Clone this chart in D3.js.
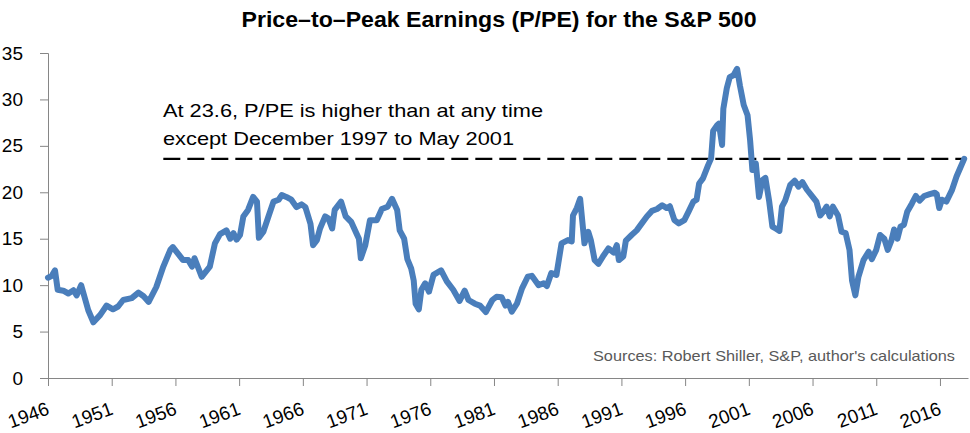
<!DOCTYPE html>
<html>
<head>
<meta charset="utf-8">
<script src="https://cdn.jsdelivr.net/npm/d3@7"></script>
<style>
  html, body { margin: 0; padding: 0; background: #ffffff; }
  svg { display: block; }
  text { font-family: "Liberation Sans", Arial, sans-serif; }
</style>
</head>
<body>
<svg id="chart" width="970" height="433"></svg>
<script>
// ---- data ----
const years = [
  1946.0, 1946.3, 1946.55, 1946.76, 1947.2, 1947.6, 1948.0, 1948.25, 1948.6, 1948.85,
  1949.16, 1949.56, 1950.1, 1950.6, 1951.1, 1951.5, 1951.9, 1952.57, 1953.1, 1953.5,
  1953.9, 1954.5, 1955.05, 1955.6, 1955.8, 1956.2, 1956.6, 1957.0, 1957.3, 1957.5,
  1958.06, 1958.7, 1959.1, 1959.5, 1960.0, 1960.3, 1960.55, 1960.8, 1961.07, 1961.33,
  1961.7, 1962.1, 1962.4, 1962.55, 1962.9, 1963.3, 1963.7, 1964.1, 1964.35, 1964.7,
  1965.1, 1965.5, 1965.9, 1966.2, 1966.6, 1966.8, 1967.1, 1967.35, 1967.75, 1968.0,
  1968.3, 1968.5, 1969.0, 1969.36, 1969.8, 1970.2, 1970.4, 1970.55, 1970.9, 1971.27,
  1971.8, 1972.2, 1972.66, 1973.0, 1973.4, 1973.6, 1973.95, 1974.2, 1974.5, 1974.7,
  1974.85, 1975.1, 1975.3, 1975.6, 1975.9, 1976.25, 1976.85, 1977.3, 1977.8, 1978.3,
  1978.7, 1979.0, 1979.5, 1979.9, 1980.36, 1980.87, 1981.2, 1981.6, 1981.9, 1982.1,
  1982.4, 1982.8, 1983.2, 1983.65, 1983.97, 1984.5, 1984.9, 1985.15, 1985.5, 1985.9,
  1986.3, 1986.8, 1987.1, 1987.2, 1987.5, 1987.76, 1988.1, 1988.4, 1988.6, 1988.9,
  1989.2, 1989.6, 1989.98, 1990.4, 1990.64, 1990.8, 1991.15, 1991.35, 1991.8, 1992.2,
  1992.6, 1993.0, 1993.4, 1993.8, 1994.2, 1994.56, 1994.8, 1995.16, 1995.5, 1995.94,
  1996.3, 1996.65, 1996.9, 1997.1, 1997.4, 1997.8, 1998.04, 1998.2, 1998.5, 1998.65,
  1998.9, 1999.0, 1999.27, 1999.5, 1999.8, 2000.08, 2000.3, 2000.6, 2000.9, 2001.1,
  2001.28, 2001.55, 2001.8, 2002.07, 2002.3, 2002.6, 2002.85, 2003.1, 2003.4, 2003.6,
  2003.85, 2004.25, 2004.6, 2004.9, 2005.2, 2005.55, 2005.9, 2006.3, 2006.6, 2006.9,
  2007.1, 2007.35, 2007.6, 2008.0, 2008.27, 2008.6, 2008.9, 2009.1, 2009.36, 2009.6,
  2010.0, 2010.4, 2010.65, 2011.0, 2011.3, 2011.63, 2011.9, 2012.2, 2012.4, 2012.66,
  2012.9, 2013.17, 2013.43, 2013.8, 2014.1, 2014.4, 2014.76, 2015.2, 2015.6, 2015.75,
  2015.94, 2016.15, 2016.5, 2016.93, 2017.3, 2017.63, 2017.9
];
const ppe = [
  10.8, 11.0, 11.6, 9.5, 9.4, 9.1, 9.45, 8.9, 10.0, 8.8,
  7.3, 6.0, 6.8, 7.8, 7.4, 7.7, 8.4, 8.6, 9.2, 8.8,
  8.2, 9.8, 12.0, 13.8, 14.1, 13.4, 12.7, 12.7, 12.0, 12.9,
  10.9, 12.0, 14.5, 15.5, 15.9, 15.0, 15.6, 14.9, 15.4, 17.4,
  18.1, 19.5, 19.0, 15.1, 15.75, 17.4, 19.0, 19.2, 19.7, 19.5,
  19.2, 18.4, 18.7, 18.4, 16.6, 14.3, 14.85, 16.1, 17.4, 17.2,
  16.1, 18.1, 19.0, 17.4, 16.8, 15.6, 15.0, 12.9, 14.3, 17.0,
  17.0, 18.2, 18.45, 19.3, 18.1, 15.9, 15.0, 12.8, 11.8, 10.5,
  8.0, 7.4, 9.5, 10.2, 9.3, 11.1, 11.6, 10.4, 9.5, 8.3,
  9.4, 8.4, 8.0, 7.8, 7.1, 8.4, 8.75, 8.7, 7.8, 8.2,
  7.15, 8.0, 9.65, 10.9, 11.0, 10.0, 10.2, 9.9, 11.3, 11.1,
  14.5, 14.85, 14.7, 17.5, 18.3, 19.3, 14.5, 15.75, 14.85, 12.7,
  12.3, 13.2, 13.95, 13.5, 14.3, 12.7, 13.1, 14.8, 15.4, 15.9,
  16.65, 17.4, 18.0, 18.2, 18.6, 18.3, 18.5, 17.0, 16.65, 17.0,
  18.0, 19.0, 19.2, 20.95, 21.5, 22.9, 23.65, 26.6, 27.2, 27.4,
  25.1, 29.0, 31.2, 32.4, 32.6, 33.3, 31.5, 29.4, 28.3, 25.6,
  22.4, 23.1, 19.5, 21.3, 21.55, 19.0, 16.3, 16.1, 15.85, 18.45,
  19.1, 20.8, 21.25, 20.6, 21.1, 20.3, 19.7, 19.0, 17.5, 18.0,
  18.45, 17.4, 18.45, 17.5, 15.75, 15.6, 13.8, 10.5, 8.9, 10.9,
  12.7, 13.6, 12.8, 13.8, 15.4, 15.0, 13.8, 14.85, 16.0, 15.0,
  16.3, 16.5, 17.9, 18.8, 19.6, 19.1, 19.6, 19.8, 19.95, 19.8,
  18.3, 19.2, 19.0, 20.2, 21.7, 22.75, 23.6
];
const xTickYears = [1946, 1951, 1956, 1961, 1966, 1971, 1976, 1981, 1986, 1991, 1996, 2001, 2006, 2011, 2016];
const xTickLabels = ["1946", "1951", "1956", "1961", "1966", "1971", "1976", "1981", "1986", "1991", "1996", "2001", "2006", "2011", "2016"];
const yTicks = [0, 5, 10, 15, 20, 25, 30, 35];
const currentLevel = 23.6;
const refLineStart = 1955.05;
const titleText = "Price\u2013to\u2013Peak Earnings (P/PE) for the S&P 500";
const noteLines = ["At 23.6, P/PE is higher than at any time", "except December 1997 to May 2001"];
const sourceText = "Sources: Robert Shiller, S&P, author's calculations";

// ---- drawing ----
const svg = d3.select("#chart");
const axisColor = "#868686";

const x = d3.scaleLinear().domain([1946, 2018.2]).range([48, 968]);
const y = d3.scaleLinear().domain([0, 35]).range([378, 53]);

// title
svg.append("text")
  .attr("x", 499).attr("y", 27)
  .attr("text-anchor", "middle")
  .attr("font-size", 22).attr("font-weight", "bold")
  .attr("fill", "#000")
  .attr("textLength", 515).attr("lengthAdjust", "spacingAndGlyphs")
  .text(titleText);

// y axis
const yAxis = svg.append("g")
  .attr("transform", `translate(${x(1946)},0)`)
  .call(d3.axisLeft(y).tickValues(yTicks).tickSize(8).tickPadding(17).tickFormat(d3.format("d")));
yAxis.select(".domain").attr("stroke", axisColor);
yAxis.selectAll(".tick line").attr("stroke", axisColor);
yAxis.selectAll(".tick text")
  .attr("font-size", 19).attr("fill", "#000")
  .attr("font-family", "'Liberation Sans', Arial, sans-serif");

// x axis
const xAxis = svg.append("g")
  .attr("transform", `translate(0,${y(0)})`)
  .call(d3.axisBottom(x).tickValues(xTickYears).tickSize(8).tickSizeOuter(0)
    .tickFormat((d, i) => xTickLabels[i]));
xAxis.select(".domain").attr("stroke", axisColor);
xAxis.selectAll(".tick line").attr("stroke", axisColor);
xAxis.selectAll(".tick text")
  .attr("font-size", 19).attr("fill", "#000")
  .attr("font-family", "'Liberation Sans', Arial, sans-serif")
  .attr("text-anchor", "end")
  .attr("dy", null)
  .attr("y", null)
  .attr("transform", "translate(2,36) rotate(-20)");

// reference dashed line
svg.append("line")
  .attr("x1", x(refLineStart)).attr("x2", x(years[years.length - 1]) + 2)
  .attr("y1", y(currentLevel)).attr("y2", y(currentLevel))
  .attr("stroke", "#000").attr("stroke-width", 2.2)
  .attr("stroke-dasharray", "17,7");

// series line
const line = d3.line()
  .x((d, i) => x(years[i]))
  .y(d => y(d));
svg.append("path")
  .datum(ppe)
  .attr("d", line)
  .attr("fill", "none")
  .attr("stroke", "#4a7ebb")
  .attr("stroke-width", 6)
  .attr("stroke-linejoin", "round")
  .attr("stroke-linecap", "round");

// annotation
svg.append("text")
  .attr("x", 163).attr("y", 117)
  .attr("font-size", 19).attr("fill", "#000")
  .attr("textLength", 380).attr("lengthAdjust", "spacingAndGlyphs")
  .text(noteLines[0]);
svg.append("text")
  .attr("x", 163).attr("y", 145)
  .attr("font-size", 19).attr("fill", "#000")
  .attr("textLength", 351).attr("lengthAdjust", "spacingAndGlyphs")
  .text(noteLines[1]);

// source
svg.append("text")
  .attr("x", 593).attr("y", 361)
  .attr("font-size", 15).attr("fill", "#595959")
  .attr("textLength", 362).attr("lengthAdjust", "spacingAndGlyphs")
  .text(sourceText);
</script>
</body>
</html>
